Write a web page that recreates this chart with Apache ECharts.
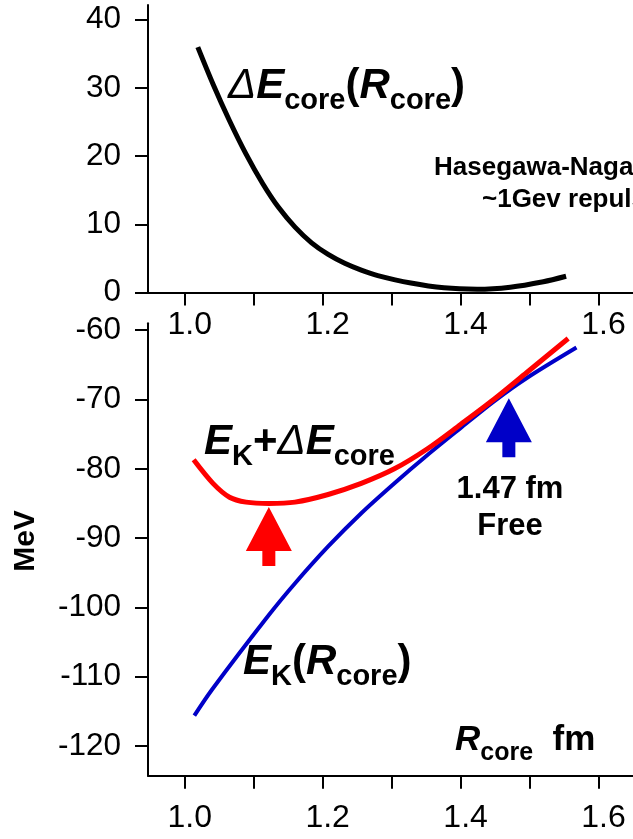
<!DOCTYPE html>
<html>
<head>
<meta charset="utf-8">
<script src="https://cdn.jsdelivr.net/npm/echarts@6/dist/echarts.min.js"></script>
<style>
  html, body { margin: 0; padding: 0; background: #fff; }
  #chart { width: 633px; height: 839px; }
</style>
</head>
<body>
<div id="chart"></div>
<script>
// Axis ticks and labels
const xTicks = [1.0, 1.1, 1.2, 1.3, 1.4, 1.5, 1.6];
const xLabels = [1.0, 1.2, 1.4, 1.6];
const coreTicks = [0, 10, 20, 30, 40];
const energyTicks = [-120, -110, -100, -90, -80, -70, -60];

// Core energy shift ΔE_core versus core radius (upper panel)
const coreR = [1.019, 1.041, 1.065, 1.089, 1.113, 1.136, 1.160, 1.184, 1.208, 1.232, 1.256, 1.280, 1.328, 1.376, 1.424, 1.472, 1.520, 1.553];
const coreE = [36.0, 30.6, 25.2, 20.3, 16.0, 12.5, 9.6, 7.3, 5.6, 4.3, 3.3, 2.5, 1.4, 0.7, 0.5, 0.8, 1.6, 2.4];

// E_K + ΔE_core (lower panel, red)
const sumR = [1.013, 1.041, 1.065, 1.089, 1.122, 1.160, 1.208, 1.256, 1.304, 1.352, 1.400, 1.448, 1.496, 1.556];
const sumE = [-78.7, -82.1, -84.1, -84.8, -85.0, -84.8, -83.7, -82.1, -80.0, -77.1, -73.6, -70.0, -66.1, -61.2];

// E_K(R_core) (lower panel, blue)
const kR = [1.014, 1.040, 1.122, 1.161, 1.208, 1.256, 1.305, 1.352, 1.399, 1.448, 1.496, 1.568];
const kE = [-115.6, -111.8, -101.1, -96.4, -91.2, -86.4, -82.0, -78.0, -74.2, -70.3, -66.9, -62.5];

// Arrow markers: minimum of E_K + ΔE_core and the free radius 1.47 fm
const minAt = [1.122, -85.5];
const freeAt = [1.47, -69.8];

const FONT = 'Liberation Sans, Arial, Helvetica, sans-serif';
const RED = '#ff0000';
const BLUE = '#0000c8';

const zip = (xs, ys) => xs.map((x, i) => [x, ys[i]]);

function xAxisCfg(gridIndex, margin) {
  return {
    type: 'value', gridIndex, min: 0.9468, max: 1.65,
    axisLine: { show: true, onZero: false, lineStyle: { color: '#000', width: 2 } },
    axisTick: { show: true, inside: false, length: 13, customValues: xTicks, lineStyle: { color: '#000', width: 2 } },
    axisLabel: { show: true, customValues: xLabels, margin, color: '#000', fontFamily: FONT, fontSize: 32,
      padding: [0, 0, 0, 10], formatter: v => v.toFixed(1) },
    splitLine: { show: false }
  };
}
function yAxisCfg(gridIndex, min, max, ticks) {
  return {
    type: 'value', gridIndex, min, max,
    axisLine: { show: true, onZero: false, lineStyle: { color: '#000', width: 2 } },
    axisTick: { show: true, inside: false, length: 13, customValues: ticks, lineStyle: { color: '#000', width: 2 } },
    axisLabel: { show: true, customValues: ticks, margin: 27, color: '#000', fontFamily: FONT, fontSize: 31.5,
      padding: [7, 0, 0, 0] },
    splitLine: { show: false }
  };
}

const mainTok = { fontFamily: FONT, fontSize: 42, fontWeight: 'bold', fontStyle: 'italic', lineHeight: 42, verticalAlign: 'bottom', padding: [0, 0, 8, 0], color: '#000' };
const deltaTok = Object.assign({}, mainTok, { fontWeight: 'normal' });
const plainTok = Object.assign({}, mainTok, { fontStyle: 'normal' });
const subTok = { fontFamily: FONT, fontSize: 29, fontWeight: 'bold', lineHeight: 29, verticalAlign: 'bottom', color: '#000' };
const rich42 = { i: mainTok, d: deltaTok, b: plainTok, s: subTok };

const axTok = { fontFamily: FONT, fontSize: 35, fontWeight: 'bold', fontStyle: 'italic', lineHeight: 35, verticalAlign: 'bottom', padding: [0, 0, 8, 0], color: '#000' };
const richAxis = {
  i: axTok,
  b: Object.assign({}, axTok, { fontStyle: 'normal' }),
  s: { fontFamily: FONT, fontSize: 25, fontWeight: 'bold', lineHeight: 25, verticalAlign: 'bottom', color: '#000' }
};

function richText(x, y, text, rich) {
  return { type: 'text', z: 20, style: { x, y, text, rich, align: 'left', verticalAlign: 'bottom' } };
}
function plainText(x, y, text, size, align, rotation) {
  const el = { type: 'text', z: 20, x, y, style: { x: 0, y: 0, text, fontFamily: FONT, fontSize: size, fontWeight: 'bold', fill: '#000', align, verticalAlign: 'middle' } };
  if (rotation) el.rotation = rotation;
  return el;
}

const chart = echarts.init(document.getElementById('chart'), null, { renderer: 'canvas' });

const option = {
  animation: false,
  backgroundColor: '#fff',
  grid: [
    { left: 148, top: 5, width: 489.4, height: 287.6 },
    { left: 148, top: 323.3, width: 489.4, height: 452.4 }
  ],
  xAxis: [xAxisCfg(0, 17), xAxisCfg(1, 26)],
  yAxis: [yAxisCfg(0, 0, 42.17, coreTicks), yAxisCfg(1, -124.28, -59.0, energyTicks)],
  series: [
    { type: 'line', xAxisIndex: 0, yAxisIndex: 0, data: zip(coreR, coreE), smooth: 0.3, showSymbol: false,
      lineStyle: { color: '#000', width: 5 } },
    { type: 'line', xAxisIndex: 1, yAxisIndex: 1, data: zip(kR, kE), smooth: 0.3, showSymbol: false,
      lineStyle: { color: BLUE, width: 4 } },
    { type: 'line', xAxisIndex: 1, yAxisIndex: 1, data: zip(sumR, sumE), smooth: 0.3, showSymbol: false,
      lineStyle: { color: RED, width: 5 } }
  ],
  graphic: [
    richText(228, 115, '{d|Δ}{i|E}{s|core}{b|(}{i|R}{s|core}{b|)}', rich42),
    richText(204, 471.5, '{i|E}{s|K}{b|+}{d|Δ}{i|E}{s|core}', rich42),
    richText(243, 691, '{i|E}{s|K}{b|(}{i|R}{s|core}{b|)}', rich42),
    richText(455, 766, '{i|R}{s|core}{b|  fm}', richAxis),
    { type: 'text', z: 20, style: { x: 434, y: 168, text: 'Hasegawa-Nagata', fontFamily: FONT, fontSize: 26, fontWeight: 'bold', fill: '#000', align: 'left', verticalAlign: 'middle' } },
    { type: 'text', z: 20, style: { x: 482, y: 200, text: '~1Gev repulsion', fontFamily: FONT, fontSize: 26, fontWeight: 'bold', fill: '#000', align: 'left', verticalAlign: 'middle' } },
    plainText(510, 489, '1.47 fm', 31, 'center'),
    plainText(510, 526, 'Free', 31, 'center'),
    plainText(26, 541, 'MeV', 30, 'center', Math.PI / 2)
  ]
};
chart.setOption(option);

// Up-pointing arrows anchored at data positions
function arrowAt(pt, color) {
  const p = chart.convertToPixel({ gridIndex: 1 }, pt);
  const hw = 23, hh = 44, sw = 6.5, sh = 15;
  return {
    type: 'polygon', z: 15, x: p[0], y: p[1],
    shape: { points: [[0, 0], [hw, hh], [sw, hh], [sw, hh + sh], [-sw, hh + sh], [-sw, hh], [-hw, hh]] },
    style: { fill: color }
  };
}
chart.setOption({ graphic: option.graphic.concat([arrowAt(minAt, RED), arrowAt(freeAt, BLUE)]) });
</script>
</body>
</html>
